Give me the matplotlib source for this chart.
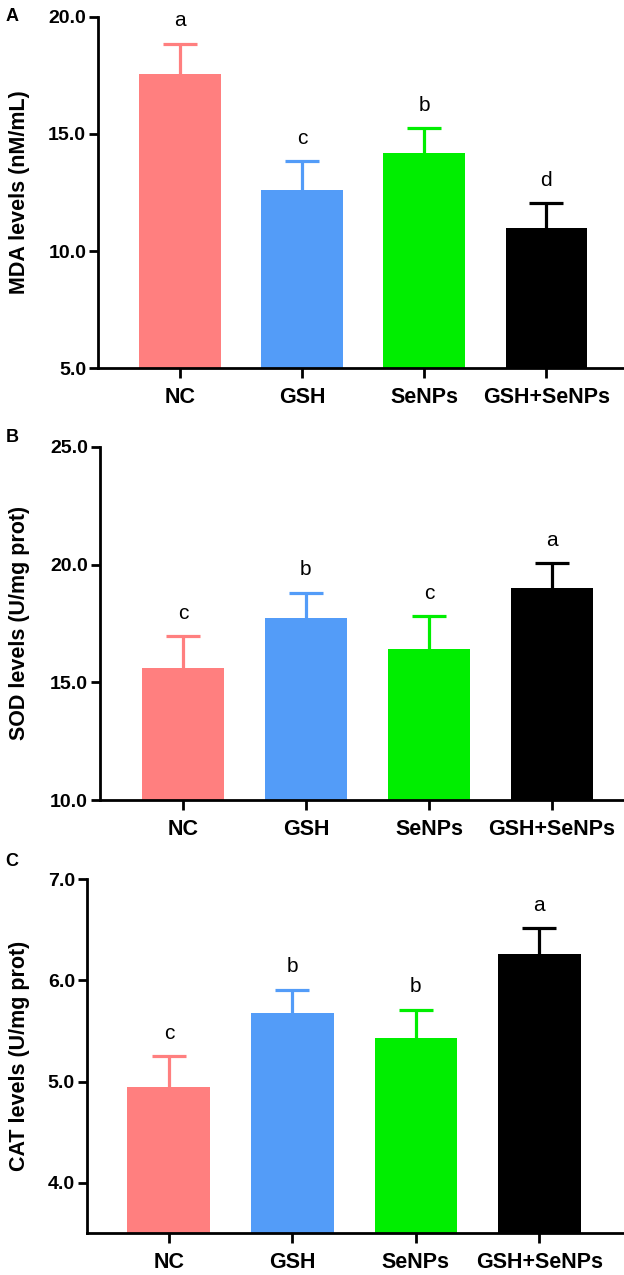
import matplotlib
matplotlib.use("Agg")
import matplotlib.pyplot as plt

plt.rcParams['font.family'] = ['Liberation Sans', 'DejaVu Sans']

groups = ["NC", "GSH", "SeNPs", "GSH+SeNPs"]
colors = ["#FF7F7F", "#539CF8", "#00EE00", "#000000"]

mda_mean = [17.55, 12.6, 14.2, 11.0]
mda_err = [1.3, 1.25, 1.05, 1.05]
mda_letters = ["a", "c", "b", "d"]

sod_mean = [15.6, 17.75, 16.4, 19.0]
sod_err = [1.35, 1.05, 1.4, 1.05]
sod_letters = ["c", "b", "c", "a"]

cat_mean = [4.95, 5.68, 5.43, 6.26]
cat_err = [0.3, 0.23, 0.28, 0.26]
cat_letters = ["c", "b", "b", "a"]

fig = plt.figure(figsize=(6.24, 12.75), dpi=100)

panels = [
    # rect, means, errs, letters, ylabel, ylim, ticks, xlim, label x, tag, tag y
    ([0.157, 0.7111, 0.842, 0.2758], mda_mean, mda_err, mda_letters,
     "MDA levels (nM/mL)", (5, 20), [5, 10, 15, 20], (-0.672, 3.63), -0.129, "A", 0.987),
    ([0.160, 0.3725, 0.839, 0.2771], sod_mean, sod_err, sod_letters,
     "SOD levels (U/mg prot)", (10, 25), [10, 15, 20, 25], (-0.675, 3.58), -0.133, "B", 0.6565),
    ([0.139, 0.0327, 0.860, 0.2776], cat_mean, cat_err, cat_letters,
     "CAT levels (U/mg prot)", (3.5, 7.0), [4, 5, 6, 7], (-0.665, 3.68), -0.106, "C", 0.324),
]

for rect, means, errs, letters, ylab, ylim, ticks, xlim, lx, tag, ty in panels:
    ax = fig.add_axes(rect)
    x = list(range(len(groups)))
    ax.bar(x, means, width=0.67, color=colors, zorder=2)
    for i in x:
        eb = ax.errorbar(i, means[i], yerr=[[0], [errs[i]]], color=colors[i],
                         elinewidth=2.3, capsize=12, capthick=2.3, zorder=1)
        eb[1][0].set_visible(False)  # only the upper cap
        ax.annotate(letters[i], xy=(i, means[i] + errs[i]), xytext=(0, 12.5),
                    textcoords='offset points', ha='center', va='baseline',
                    fontsize=15)
    ax.set_xlim(*xlim)
    ax.set_ylim(*ylim)
    ax.set_yticks(ticks)
    ax.set_yticklabels(["%.1f" % t for t in ticks], fontsize=14, fontweight='bold')
    ax.set_xticks(x)
    ax.set_xticklabels(groups, fontsize=15.5, fontweight='bold')
    ax.set_ylabel(ylab, fontsize=15.5, fontweight='bold')
    ax.yaxis.set_label_coords(lx, 0.5)
    for s in ["top", "right"]:
        ax.spines[s].set_visible(False)
    for s in ["left", "bottom"]:
        ax.spines[s].set_linewidth(2)
    ax.tick_params(axis='y', length=6.5, width=2, pad=2)
    ax.tick_params(axis='x', length=7, width=2, pad=6.5)
    fig.text(0.019, ty, tag, fontsize=13, fontweight='bold', ha='center', va='center')

fig.savefig("out.png", dpi=100)
